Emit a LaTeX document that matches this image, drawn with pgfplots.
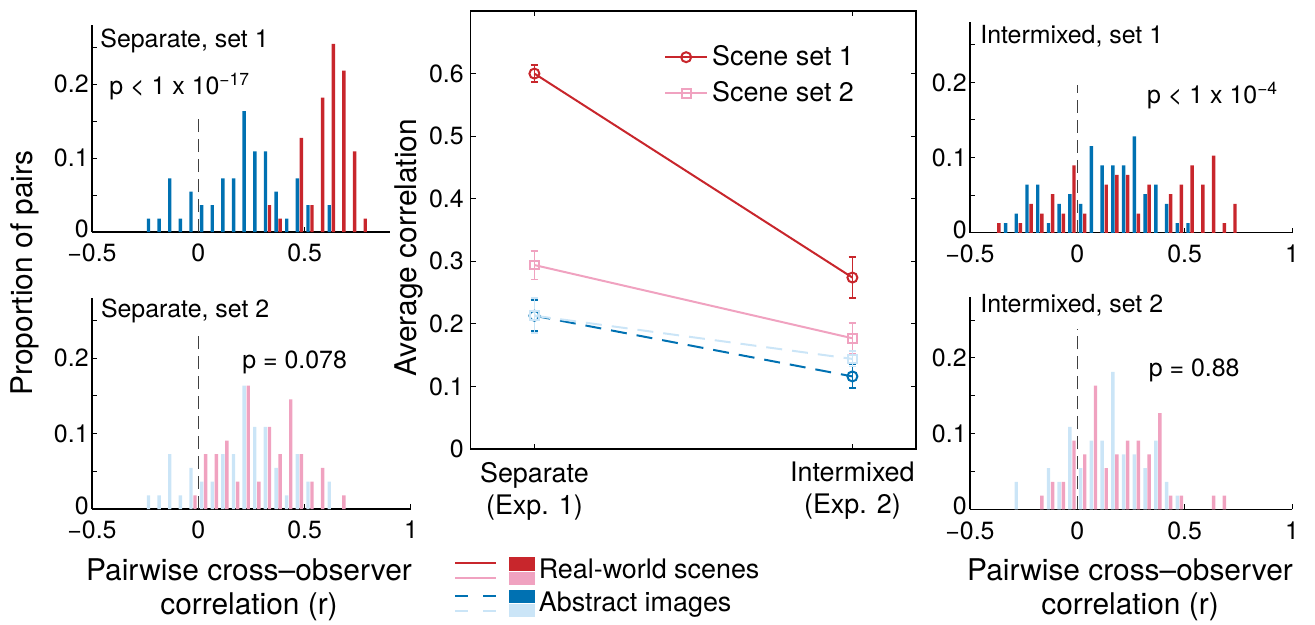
\documentclass[border=0pt]{standalone}
\usepackage{fontspec}
\setmainfont{TeX Gyre Heros}
\usepackage{pgfplots}
\pgfplotsset{compat=1.18}

\definecolor{cred}{RGB}{200,38,44}
\definecolor{cpink}{RGB}{240,162,192}
\definecolor{cblue}{RGB}{0,113,178}
\definecolor{clblue}{RGB}{203,229,247}

\newcommand{\tickfont}{\fontsize{12.5}{16}\selectfont}
\newcommand{\txtfont}{\fontsize{12.5}{15}\selectfont}
\newcommand{\legfont}{\fontsize{13.5}{16}\selectfont}
\newcommand{\labfont}{\fontsize{15}{17}\selectfont}

\pgfplotsset{
  hist/.style={
    scale only axis,
    axis lines*=left,
    clip=false,
    ybar,
    bar width=0.016,
    enlargelimits=false,
    xmin=-0.5, xmax=1,
    ymin=0, ymax=0.28,
    xtick={-0.5,0,0.5,1},
    xticklabels={−0.5,0,0.5,1},
    ytick={0,0.1,0.2},
    yticklabels={\raisebox{3.5bp}{0},0.1,0.2},
    minor ytick={0.05,0.15,0.25},
    tick align=inside,
    major tick length=2.5bp,
    minor tick length=2.5bp,
    tick style={black, line width=0.5bp},
    axis line style={black, line width=0.6bp},
    tick label style={font=\tickfont},
    xticklabel style={yshift=-2.5bp},
    yticklabel style={inner sep=1.5bp},
    anchor=south west,
  },
  zeroline/.style={sharp plot, no marks, black!75, line width=0.6bp,
    dash pattern=on 6.5bp off 3.5bp},
  pA/.style={fill=#1, draw=none, bar shift=-0.0095},
  pB/.style={fill=#1, draw=none, bar shift=0.0095},
  ebar/.style={error bars/.cd, y dir=both, y explicit,
    error bar style={solid, line width=0.9bp},
    error mark=-,
    error mark options={solid, rotate=90, line width=0.9bp, mark size=1.9bp}},
}

\begin{document}
\begin{tikzpicture}
\path[use as bounding box] (0,0) rectangle (657.5bp,-312.5bp);

% ---------- Separate, set 1
\begin{axis}[hist, at={(46bp,-116bp)}, width=148.9bp, height=103.5bp,
  xmax=0.9, xtick={-0.5,0,0.5}, xticklabels={−0.5,0,0.5}]
\addplot[pA=cblue] coordinates {(-0.225,0.0182) (-0.175,0.0182) (-0.125,0.0727)
  (-0.075,0.0182) (-0.025,0.0545) (0.025,0.0364) (0.075,0.0364) (0.125,0.0727)
  (0.175,0.0727) (0.225,0.1636) (0.275,0.1091) (0.325,0.1091) (0.375,0.0545)
  (0.425,0.0182) (0.475,0.0727) (0.525,0.0364) (0.625,0.0364)};
\addplot[pB=cred] coordinates {(0.325,0.0364) (0.375,0.0182) (0.475,0.1273)
  (0.525,0.0364) (0.575,0.1818) (0.625,0.2545) (0.675,0.2182) (0.725,0.1091)
  (0.775,0.0182)};
\addplot[zeroline] coordinates {(0,0) (0,0.154)};
\node[anchor=base west, inner sep=0pt, font=\txtfont] at (rel axis cs:0.027,0.89) {Separate, set 1};
\node[anchor=base west, inner sep=0pt, font=\txtfont] at (rel axis cs:0.057,0.665) {p < 1 x 10\textsuperscript{−17}};
\end{axis}

% ---------- Separate, set 2
\begin{axis}[hist, at={(46bp,-254.5bp)}, width=159.5bp, height=105.5bp]
\addplot[pA=clblue] coordinates {(-0.225,0.0182) (-0.175,0.0182) (-0.125,0.0727)
  (-0.075,0.0182) (-0.025,0.0545) (0.025,0.0364) (0.075,0.0364) (0.125,0.0727)
  (0.175,0.0727) (0.225,0.1636) (0.275,0.1091) (0.325,0.1091) (0.375,0.0545)
  (0.425,0.0182) (0.475,0.0727) (0.525,0.0364) (0.625,0.0364)};
\addplot[pB=cpink] coordinates {(-0.025,0.0182) (0.025,0.0727) (0.075,0.0727)
  (0.125,0.0909) (0.175,0.0364) (0.225,0.1636) (0.275,0.0364) (0.325,0.1091)
  (0.375,0.0727) (0.425,0.1455) (0.475,0.0727) (0.525,0.0364) (0.575,0.0545)
  (0.675,0.0182)};
\addplot[zeroline] coordinates {(0,0) (0,0.235)};
\node[anchor=base west, inner sep=0pt, font=\txtfont] at (rel axis cs:0.027,0.907) {Separate, set 2};
\node[anchor=base west, inner sep=0pt, font=\txtfont] at (rel axis cs:0.47,0.667) {p = 0.078};
\end{axis}

% ---------- Intermixed, set 1
\begin{axis}[hist, at={(485bp,-116.4bp)}, width=161bp, height=105.3bp]
\addplot[pA=cblue] coordinates {(-0.325,0.0128) (-0.275,0.0256) (-0.225,0.0641)
  (-0.175,0.0641) (-0.125,0.0128) (-0.075,0.0385) (-0.025,0.0513) (0.025,0.0385)
  (0.075,0.1154) (0.125,0.0897) (0.175,0.0897) (0.225,0.0897) (0.275,0.1282)
  (0.325,0.0513) (0.375,0.0641) (0.425,0.0385) (0.475,0.0128) (0.525,0.0128)};
\addplot[pB=cred] coordinates {(-0.375,0.0128) (-0.275,0.0128) (-0.225,0.0385)
  (-0.175,0.0256) (-0.125,0.0513) (-0.075,0.0256) (-0.025,0.0897) (0.025,0.0256)
  (0.125,0.0641) (0.175,0.0769) (0.225,0.0769) (0.275,0.0256) (0.325,0.0641)
  (0.425,0.0513) (0.475,0.0641) (0.525,0.0897) (0.575,0.0641) (0.625,0.1026)
  (0.675,0.0128) (0.725,0.0385)};
\addplot[zeroline] coordinates {(0,0) (0,0.196)};
\node[anchor=base west, inner sep=0pt, font=\txtfont] at (rel axis cs:0.031,0.899) {Intermixed, set 1};
\node[anchor=base west, inner sep=0pt, font=\txtfont] at (rel axis cs:0.549,0.614) {p < 1 x 10\textsuperscript{−4}};
\end{axis}

% ---------- Intermixed, set 2
\begin{axis}[hist, at={(485bp,-254.7bp)}, width=161bp, height=106bp]
\addplot[pA=clblue] coordinates {(-0.275,0.0364) (-0.125,0.0545) (-0.075,0.0364)
  (-0.025,0.1091) (0.025,0.0545) (0.075,0.0909) (0.125,0.0909) (0.175,0.1818)
  (0.225,0.0727) (0.275,0.0727) (0.325,0.0545) (0.375,0.0909) (0.425,0.0364)
  (0.475,0.0182)};
\addplot[pB=cpink] coordinates {(-0.175,0.0182) (-0.125,0.0364) (-0.075,0.0364)
  (-0.025,0.0909) (0.025,0.0727) (0.075,0.1636) (0.125,0.0545) (0.175,0.0727)
  (0.225,0.0909) (0.275,0.0909) (0.325,0.0727) (0.375,0.1273) (0.425,0.0182)
  (0.475,0.0182) (0.625,0.0182) (0.675,0.0182)};
\addplot[zeroline] coordinates {(0,0) (0,0.238)};
\node[anchor=base west, inner sep=0pt, font=\txtfont] at (rel axis cs:0.031,0.927) {Intermixed, set 2};
\node[anchor=base west, inner sep=0pt, font=\txtfont] at (rel axis cs:0.554,0.629) {p = 0.88};
\end{axis}

% ---------- Average correlation
\begin{axis}[scale only axis, at={(235.4bp,-224.5bp)}, anchor=south west,
  width=222.6bp, height=219bp,
  xmin=0.8, xmax=2.2, ymin=0, ymax=0.7,
  xtick={1,2}, xticklabels={{Separate\\(Exp. 1)},{Intermixed\\(Exp. 2)}},
  tick label style={font=\tickfont},
  xticklabel style={align=center, font=\fontsize{13.5}{16}\selectfont, yshift=-3bp},
  ytick={0,0.1,0.2,0.3,0.4,0.5,0.6}, yticklabels={0,0.1,0.2,0.3,0.4,0.5,0.6},
  tick align=inside, major tick length=2.5bp,
  tick style={black, line width=0.5bp},
  axis line style={black, line width=0.6bp},
  ylabel={\labfont Average correlation},
  ylabel shift=-4bp,
  ylabel style={at={(ticklabel cs:0.46)}},
  legend style={draw=none, fill=none, at={(0.42,0.94)}, anchor=north west,
    font=\legfont, row sep=2.5bp},
  legend cell align=left,
  legend image code/.code={\draw[mark repeat=2, mark phase=2] plot coordinates {(0bp,0bp) (10.5bp,0bp) (21bp,0bp)};},
]
\addplot[cred, line width=1bp, mark=o, mark size=2.5bp, ebar]
  coordinates {(1,0.600) +- (0,0.014) (2,0.274) +- (0,0.033)};
\addlegendentry{Scene set 1}
\addplot[cpink, line width=1bp, mark=square, mark size=2.2bp, ebar]
  coordinates {(1,0.294) +- (0,0.023) (2,0.177) +- (0,0.025)};
\addlegendentry{Scene set 2}
\addplot[cblue, line width=1bp, dash pattern=on 8bp off 5bp, mark=o, mark size=2.5bp,
  mark options={solid}, forget plot, ebar]
  coordinates {(1,0.213) +- (0,0.025) (2,0.116) +- (0,0.019)};
\addplot[clblue, line width=1bp, dash pattern=on 8bp off 5bp, mark=square, mark size=2.2bp,
  mark options={solid}, forget plot, ebar]
  coordinates {(1,0.213) +- (0,0.028) (2,0.144) +- (0,0.012)};
\end{axis}

% ---------- key
\begin{axis}[hide axis, scale only axis, width=1bp, height=1bp,
  at={(224bp,-275.5bp)}, anchor=north west, xmin=0, xmax=1, ymin=0, ymax=1,
  legend style={draw=none, fill=none, at={(0,1)}, anchor=north west,
    font=\legfont, row sep=1bp},
  legend cell align=left]
\addlegendimage{legend image code/.code={
  \draw[cred, line width=1bp] (0bp,3.6bp) -- (20.5bp,3.6bp);
  \draw[cpink, line width=1bp] (0bp,-3.7bp) -- (20.5bp,-3.7bp);
  \fill[cred] (27bp,0.3bp) rectangle (39.5bp,6.6bp);
  \fill[cpink] (27bp,-0.7bp) rectangle (39.5bp,-6.7bp);}}
\addlegendentry{Real-world scenes}
\addlegendimage{legend image code/.code={
  \draw[cblue, line width=1bp, dash pattern=on 6.5bp off 7.5bp] (0bp,3.6bp) -- (20.5bp,3.6bp);
  \draw[clblue, line width=1bp, dash pattern=on 6.5bp off 7.5bp] (0bp,-3.7bp) -- (20.5bp,-3.7bp);
  \fill[cblue] (27bp,0.3bp) rectangle (39.5bp,6.6bp);
  \fill[clblue] (27bp,-0.7bp) rectangle (39.5bp,-6.7bp);}}
\addlegendentry{Abstract images}
\end{axis}

% ---------- shared labels
\node[rotate=90, font=\labfont] at (12.5bp,-136.5bp) {Proportion of pairs};
\node[align=center, font=\labfont] at (124.5bp,-295bp) {Pairwise cross--observer\\correlation (r)};
\node[align=center, font=\labfont] at (565bp,-295bp) {Pairwise cross--observer\\correlation (r)};
\end{tikzpicture}
\end{document}
